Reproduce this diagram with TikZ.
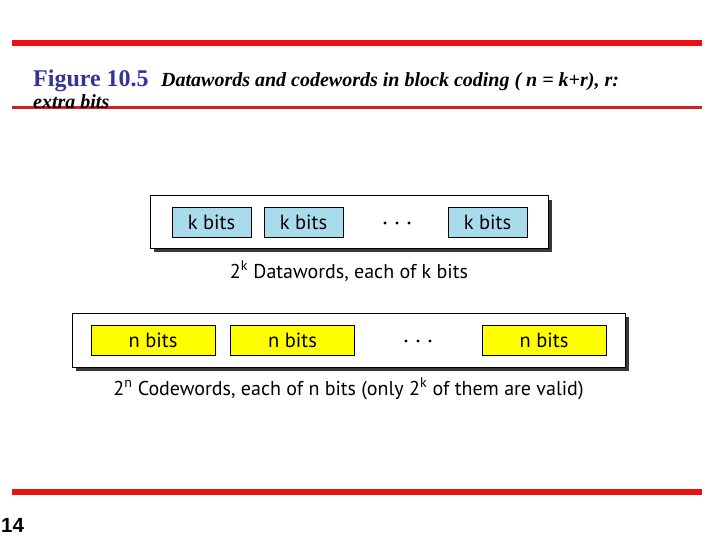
\documentclass[tikz,border=0pt]{standalone}
\usepackage{fontspec}
\setmainfont{Liberation Serif}
\newfontfamily\diagfont{PT Sans}
\newfontfamily\numfont{Liberation Sans}
\definecolor{figblue}{HTML}{333399}
\definecolor{slidered}{HTML}{EE1111}
\definecolor{darkred}{HTML}{CC2222}
\definecolor{kblue}{HTML}{A8DCEC}
\definecolor{nyellow}{HTML}{FFFF00}
\tikzset{
  outerbox/.style={draw=black, line width=1pt, fill=white},
  shadowbox/.style={fill=black!78, draw=none},
  kbox/.style={draw=black, line width=0.8pt, fill=kblue, minimum width=79pt, minimum height=30pt, inner sep=0pt, font=\diagfont\fontsize{20.5}{20.5}\selectfont},
  nbox/.style={draw=black, line width=0.8pt, fill=nyellow, minimum width=124pt, minimum height=30pt, inner sep=0pt, font=\diagfont\fontsize{20.5}{20.5}\selectfont},
  dotmark/.style={circle, fill=black, inner sep=0pt, minimum size=3.4pt},
  caplabel/.style={font=\diagfont\fontsize{20}{20}\selectfont, inner sep=0pt, anchor=base}
}
\begin{document}
\begin{tikzpicture}[x=1pt,y=-1pt]
\useasboundingbox (0,0) rectangle (720,540);
% rules
\fill[slidered] (12,40) rectangle (702,46);
\fill[darkred] (12,106.5) rectangle (702,109.5);
\fill[slidered] (12,489) rectangle (702,495);
% title
\node[anchor=base west, inner sep=0pt, text=figblue, font=\fontsize{24}{24}\selectfont\bfseries] (fig) at (33,87) {Figure 10.5};
\node[anchor=base west, inner sep=0pt, font=\fontsize{20}{20}\selectfont\bfseries\itshape] (cap) at (161,87) {Datawords and codewords in block coding ( n = k+r), r:};
\node[anchor=base west, inner sep=0pt, font=\fontsize{20}{20}\selectfont\bfseries\itshape] (cap2) at (33,109) {extra bits};
% page number
\node[anchor=base west, inner sep=0pt, font=\numfont\bfseries\fontsize{20.5}{20.5}\selectfont] (pg) at (1,532) {14};
% datawords
\fill[shadowbox] (154,200) rectangle (552,252);
\draw[outerbox] (150,196) rectangle (548,248);
\node[kbox] (k1) at (211.5,222) {k bits};
\node[kbox] (k2) at (303.5,222) {k bits};
\node[kbox] (k3) at (487.5,222) {k bits};
\node[dotmark] (kd1) at (385,223) {};
\node[dotmark] (kd2) at (397,223) {};
\node[dotmark] (kd3) at (409,223) {};
\node[caplabel] (klab) at (349,278) {2\textsuperscript{k} Datawords, each of k bits};
% codewords
\fill[shadowbox] (76,317) rectangle (629,371);
\draw[outerbox] (72,313) rectangle (625,367);
\node[nbox] (n1) at (153,340) {n bits};
\node[nbox] (n2) at (292.5,340) {n bits};
\node[nbox] (n3) at (544,340) {n bits};
\node[dotmark] (nd1) at (406,341) {};
\node[dotmark] (nd2) at (418,341) {};
\node[dotmark] (nd3) at (430,341) {};
\node[caplabel] (nlab) at (348.5,395) {2\textsuperscript{n} Codewords, each of n bits (only 2\textsuperscript{k} of them are valid)};
\end{tikzpicture}
\end{document}
